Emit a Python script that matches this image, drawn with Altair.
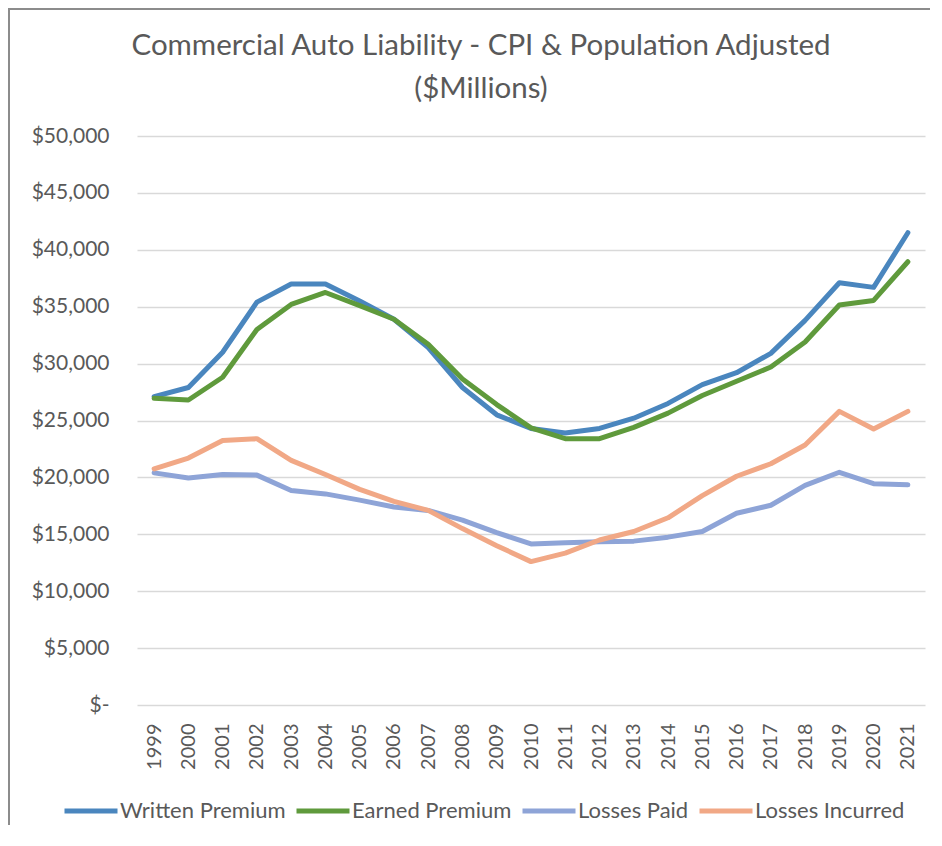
import altair as alt
import pandas as pd

years = [str(y) for y in range(1999, 2022)]
written = [27100, 27900, 31000, 35400, 37000, 37000, 35500, 33900, 31400, 27900, 25500, 24300,
           23900, 24300, 25200, 26500, 28150, 29200, 30900, 33800, 37100, 36700, 41500]
earned = [26950, 26800, 28800, 33000, 35200, 36250, 35100, 33900, 31700, 28650, 26400, 24350,
          23400, 23400, 24400, 25650, 27200, 28450, 29700, 31900, 35150, 35550, 38950]
paid = [20400, 19950, 20250, 20200, 18850, 18550, 18000, 17400, 17100, 16250, 15150, 14150,
        14250, 14350, 14400, 14750, 15250, 16850, 17550, 19300, 20450, 19450, 19350]
incurred = [20750, 21700, 23250, 23400, 21500, 20250, 18950, 17900, 17100, 15500, 14000, 12600,
            13350, 14500, 15250, 16450, 18400, 20100, 21200, 22850, 25800, 24250, 25800]

series_names = ["Written Premium", "Earned Premium", "Losses Paid", "Losses Incurred"]
series_colors = ["#4A86BE", "#5F9A3C", "#8EA4D7", "#F1A886"]
y_ticks = list(range(0, 50001, 5000))

rows = []
for name, vals in zip(series_names, [written, earned, paid, incurred]):
    for yr, v in zip(years, vals):
        rows.append({"Year": yr, "Series": name, "Value": v})
df = pd.DataFrame(rows)

W, H = 788, 569
FONT = "Lato"
TXT = "#595959"

lines = alt.Chart(df).mark_line(strokeWidth=5, strokeJoin="round", strokeCap="round").encode(
    x=alt.X("Year:O", sort=years,
            scale=alt.Scale(type="point", padding=0.5),
            axis=alt.Axis(title=None, labelAngle=-90, domain=False, ticks=False, grid=False,
                          labelFont=FONT, labelFontSize=20, labelColor=TXT, labelPadding=18)),
    y=alt.Y("Value:Q", scale=alt.Scale(domain=[0, 50000], nice=False),
            axis=alt.Axis(title=None, values=y_ticks, domain=False, ticks=False, grid=True,
                          gridColor="#D9D9D9", gridWidth=1.3,
                          labelFont=FONT, labelFontSize=21, labelColor=TXT, labelPadding=28,
                          labelExpr="datum.value == 0 ? '$-\u2007' : '$' + format(datum.value, ',')")),
    color=alt.Color("Series:N", sort=series_names,
                    scale=alt.Scale(domain=series_names, range=series_colors),
                    legend=alt.Legend(title=None, orient="none", legendX=-75, legendY=646,
                                      direction="horizontal", symbolType="stroke",
                                      symbolSize=2809, symbolStrokeWidth=5,
                                      labelFont=FONT, labelFontSize=22, labelColor=TXT,
                                      labelLimit=0, labelOffset=0, columnPadding=0)),
)

frame_data = alt.Data(values=[{"k": 0}])
left_rule = alt.Chart(frame_data).mark_rule(color="#8C8C8C", strokeWidth=2).encode(
    x=alt.value(-128), y=alt.value(-130), y2=alt.value(H + 140))
top_rule = alt.Chart(frame_data).mark_rule(color="#8C8C8C", strokeWidth=2).encode(
    x=alt.value(-130), x2=alt.value(W + 20), y=alt.value(-127))

chart = alt.layer(lines, left_rule, top_rule).properties(
    width=W, height=H,
    title=alt.TitleParams(
        text=["Commercial Auto Liability - CPI & Population Adjusted", "($Millions)"],
        font=FONT, fontSize=29.5, fontWeight="normal", color=TXT, lineHeight=43,
        anchor="middle", frame="group", dx=-50, offset=0, dy=99),
    autosize=alt.AutoSizeParams(type="none"),
    padding={"left": 129, "top": 128, "right": 5, "bottom": 120},
).configure_view(strokeWidth=0, stroke=None)

chart.save("out.html", embed_options={"renderer": "svg", "actions": False})
